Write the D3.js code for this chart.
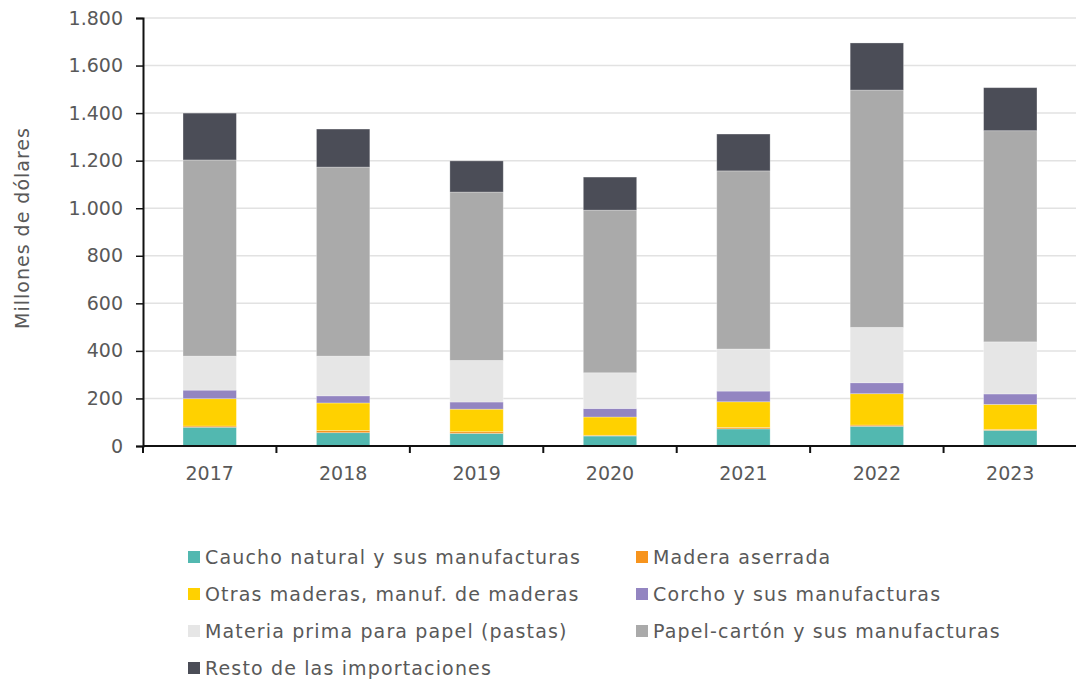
<!DOCTYPE html>
<html>
<head>
<meta charset="utf-8">
<script src="https://cdn.jsdelivr.net/npm/d3@7"></script>
<style>
  body { margin: 0; background: #fff; }
  svg text { font-family: "DejaVu Sans", sans-serif; fill: #595959; }
</style>
</head>
<body>
<div id="chart"></div>
<script>
var years = ["2017", "2018", "2019", "2020", "2021", "2022", "2023"];
var seriesNames = [
  "Caucho natural y sus manufacturas",
  "Madera aserrada",
  "Otras maderas, manuf. de maderas",
  "Corcho y sus manufacturas",
  "Materia prima para papel (pastas)",
  "Papel-cartón y sus manufacturas",
  "Resto de las importaciones"
];
var colors = ["#52b8b0", "#f7941d", "#ffd100", "#9385c1", "#e6e6e6", "#aaaaaa", "#4b4d57"];

// millions of dollars
var caucho  = [79, 56, 53, 42, 72, 83, 66];
var madera  = [5, 9, 7, 3, 6, 5, 4];
var otras   = [115, 116, 95, 77, 108, 132, 105];
var corcho  = [36, 30, 30, 36, 45, 46, 44];
var pastas  = [143, 167, 175, 150, 177, 233, 219];
var papel   = [825, 795, 708, 684, 749, 998, 888];
var resto   = [197, 160, 131, 139, 155, 198, 181];
var yTicks = [0, 200, 400, 600, 800, 1000, 1200, 1400, 1600, 1800];

var series = [caucho, madera, otras, corcho, pastas, papel, resto];

var W = 1076, H = 681;
var margin = {left: 143, top: 18, right: 0};
var w = 1077 - margin.left, h = 446 - margin.top;

var svg = d3.select("#chart").append("svg").attr("width", W).attr("height", H);
var g = svg.append("g").attr("transform", "translate(" + margin.left + "," + margin.top + ")");

var x = d3.scaleBand().domain(years).range([0, w]).paddingInner(0.6).paddingOuter(0.3);
var xb = d3.scaleBand().domain(years).range([0, w]);
var y = d3.scaleLinear().domain([0, 1800]).range([h, 0]);

var fmt = function(d) { return d3.format(",")(d).replace(/,/g, "."); };

// grid
g.append("g").selectAll("line").data(yTicks.slice(1)).enter().append("line")
  .attr("x1", 0).attr("x2", w)
  .attr("y1", function(d) { return y(d); }).attr("y2", function(d) { return y(d); })
  .attr("stroke", "#e2e2e2").attr("stroke-width", 1.5);

// stacked bars
var table = years.map(function(yr, i) {
  var row = {year: yr};
  seriesNames.forEach(function(s, k) { row[s] = series[k][i]; });
  return row;
});
var stacked = d3.stack().keys(seriesNames)(table);

g.selectAll("g.layer").data(stacked).enter().append("g")
  .attr("class", "layer")
  .attr("fill", function(d, i) { return colors[i]; })
  .selectAll("rect").data(function(d) { return d; }).enter().append("rect")
  .attr("x", function(d) { return x(d.data.year); })
  .attr("width", x.bandwidth())
  .attr("y", function(d) { return y(d[1]); })
  .attr("height", function(d) { return y(d[0]) - y(d[1]); })
  .attr("stroke", "#ffffff").attr("stroke-opacity", 0.35).attr("stroke-width", 0.8);

// y axis
var yAxis = g.append("g").call(d3.axisLeft(y).tickValues(yTicks).tickFormat(fmt).tickSize(7).tickPadding(13));
yAxis.select(".domain").attr("stroke", "#111").attr("stroke-width", 2);
yAxis.selectAll(".tick line").attr("stroke", "#111").attr("stroke-width", 1.5);
yAxis.selectAll("text").style("font-size", "19px").attr("fill", "#595959");

// x axis
var xAxis = g.append("g").attr("transform", "translate(0," + h + ")");
xAxis.append("line").attr("x1", 0).attr("x2", w).attr("stroke", "#111").attr("stroke-width", 2);
xAxis.selectAll("line.tk").data(years.concat(["end"])).enter().append("line")
  .attr("class", "tk")
  .attr("x1", function(d, i) { return i * xb.step(); })
  .attr("x2", function(d, i) { return i * xb.step(); })
  .attr("y1", 0).attr("y2", 7).attr("stroke", "#111").attr("stroke-width", 2);
xAxis.selectAll("text").data(years).enter().append("text")
  .attr("x", function(d) { return xb(d) + xb.bandwidth() / 2; })
  .attr("y", 34)
  .attr("text-anchor", "middle")
  .style("font-size", "19px")
  .text(function(d) { return d; });

// y label
svg.append("text")
  .attr("transform", "translate(29,228) rotate(-90)")
  .attr("text-anchor", "middle")
  .style("font-size", "19px")
  .style("letter-spacing", "1px")
  .text("Millones de dólares");

// legend
var legend = svg.append("g");
var item = legend.selectAll("g").data(seriesNames).enter().append("g")
  .attr("transform", function(d, i) {
    return "translate(" + (i % 2 === 0 ? 188 : 636) + "," + (557 + Math.floor(i / 2) * 37) + ")";
  });
item.append("rect").attr("x", 0).attr("y", -6).attr("width", 12).attr("height", 12)
  .attr("fill", function(d, i) { return colors[i]; });
item.append("text").attr("x", 17).attr("y", 7)
  .style("font-size", "19px")
  .style("letter-spacing", "1.15px")
  .text(function(d) { return d; });
</script>
</body>
</html>
